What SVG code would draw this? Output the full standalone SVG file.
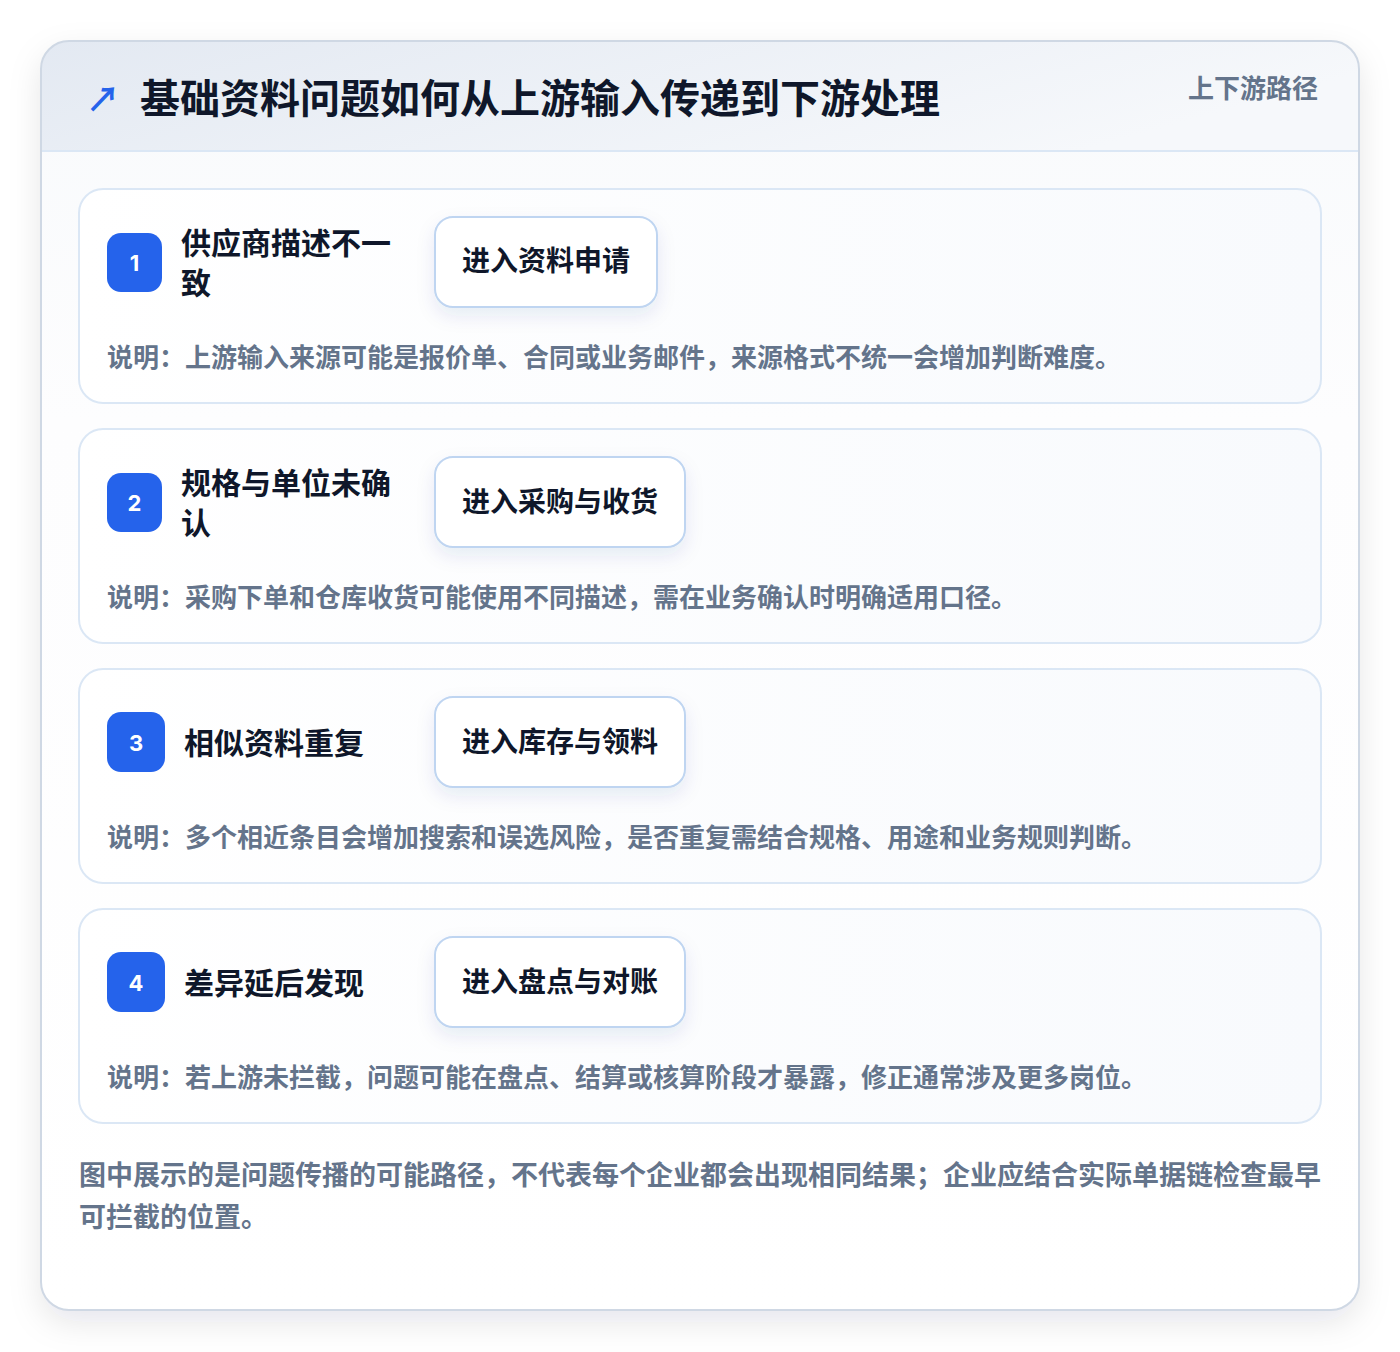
<svg xmlns="http://www.w3.org/2000/svg" width="1400" height="1352" viewBox="0 0 1400 1352">
<defs>
<linearGradient id="hdr" x1="0" y1="0" x2="1" y2="0.3">
<stop offset="0" stop-color="#e3e9f2"/>
<stop offset="1" stop-color="#f6f8fb"/>
</linearGradient>
<linearGradient id="body" x1="0" y1="0" x2="0" y2="1">
<stop offset="0" stop-color="#f8fafc"/>
<stop offset="0.3" stop-color="#fdfdfe"/>
<stop offset="1" stop-color="#ffffff"/>
</linearGradient>
<linearGradient id="card" x1="0" y1="0" x2="1" y2="0">
<stop offset="0" stop-color="#ffffff"/>
<stop offset="1" stop-color="#f8fafd"/>
</linearGradient>
<filter id="sh" x="-10%" y="-10%" width="120%" height="120%">
<feDropShadow dx="0" dy="12" stdDeviation="16" flood-color="#0f172a" flood-opacity="0.10"/>
</filter>
<filter id="bsh" x="-20%" y="-30%" width="140%" height="170%">
<feDropShadow dx="0" dy="8" stdDeviation="9" flood-color="#1e3a8a" flood-opacity="0.09"/>
</filter>
<clipPath id="outerClip"><rect x="41" y="41" width="1318" height="1269" rx="28"/></clipPath>
</defs>
<style>
.t{font-family:"Noto Sans CJK SC","Noto Sans",sans-serif;font-weight:700}
.title{font-size:40px;fill:#0f172a}
.sub{font-size:26px;fill:#64748b}
.st{font-size:30px;fill:#0f172a}
.bt{font-size:28px;fill:#0f172a}
.desc{font-size:26px;fill:#64748b}
.foot{font-size:27px;fill:#64748b}
.num{font-family:"Inter","Liberation Sans",sans-serif;font-weight:700;font-size:22px;fill:#ffffff}
.card{fill:url(#card);stroke:#dbe7f5;stroke-width:2}
.badge{fill:#2563eb}
.btn{fill:#ffffff;stroke:#bfd5f1;stroke-width:2}
</style>
<rect width="1400" height="1352" fill="#ffffff"/>
<g id="frame">
<rect x="41" y="41" width="1318" height="1269" rx="28" fill="url(#body)" filter="url(#sh)"/>
<g clip-path="url(#outerClip)">
<rect x="41" y="41" width="1318" height="110" fill="url(#hdr)"/>
<line x1="41" y1="151" x2="1359" y2="151" stroke="#dbe7f5" stroke-width="2"/>
</g>
<rect x="41" y="41" width="1318" height="1269" rx="28" fill="none" stroke="#cfd8e4" stroke-width="2"/>
</g>
<g id="header">
<text class="t" x="86" y="112" font-size="34" fill="#2563eb">↗</text>
<text class="t title" x="140" y="113">基础资料问题如何从上游输入传递到下游处理</text>
<text class="t sub" x="1318" y="98" text-anchor="end">上下游路径</text>
</g>
<g id="step1">
<rect class="card" x="79" y="189" width="1242" height="214" rx="24"/>
<rect class="badge" x="107" y="233" width="55" height="59" rx="14"/>
<text class="num" x="134.5" y="271" text-anchor="middle">1</text>
<text class="t st" x="181" y="254">供应商描述不一</text>
<text class="t st" x="181" y="294">致</text>
<rect class="btn" x="435" y="217" width="222" height="90" rx="18" filter="url(#bsh)"/>
<text class="t bt" x="546" y="271" text-anchor="middle">进入资料申请</text>
<text class="t desc" x="107" y="367">说明：上游输入来源可能是报价单、合同或业务邮件，来源格式不统一会增加判断难度。</text>
</g>
<g id="step2">
<rect class="card" x="79" y="429" width="1242" height="214" rx="24"/>
<rect class="badge" x="107" y="473" width="55" height="59" rx="14"/>
<text class="num" x="134.5" y="511" text-anchor="middle">2</text>
<text class="t st" x="181" y="494">规格与单位未确</text>
<text class="t st" x="181" y="534">认</text>
<rect class="btn" x="435" y="457" width="250" height="90" rx="18" filter="url(#bsh)"/>
<text class="t bt" x="560" y="512" text-anchor="middle">进入采购与收货</text>
<text class="t desc" x="107" y="607">说明：采购下单和仓库收货可能使用不同描述，需在业务确认时明确适用口径。</text>
</g>
<g id="step3">
<rect class="card" x="79" y="669" width="1242" height="214" rx="24"/>
<rect class="badge" x="107" y="712" width="58" height="60" rx="14"/>
<text class="num" x="136" y="751" text-anchor="middle">3</text>
<text class="t st" x="184" y="754">相似资料重复</text>
<rect class="btn" x="435" y="697" width="250" height="90" rx="18" filter="url(#bsh)"/>
<text class="t bt" x="560" y="752" text-anchor="middle">进入库存与领料</text>
<text class="t desc" x="107" y="847">说明：多个相近条目会增加搜索和误选风险，是否重复需结合规格、用途和业务规则判断。</text>
</g>
<g id="step4">
<rect class="card" x="79" y="909" width="1242" height="214" rx="24"/>
<rect class="badge" x="107" y="952" width="58" height="60" rx="14"/>
<text class="num" x="136" y="991" text-anchor="middle">4</text>
<text class="t st" x="184" y="994">差异延后发现</text>
<rect class="btn" x="435" y="937" width="250" height="90" rx="18" filter="url(#bsh)"/>
<text class="t bt" x="560" y="992" text-anchor="middle">进入盘点与对账</text>
<text class="t desc" x="107" y="1087">说明：若上游未拦截，问题可能在盘点、结算或核算阶段才暴露，修正通常涉及更多岗位。</text>
</g>
<g id="connectors"></g>
<g id="footer">
<text class="t foot" x="79" y="1185">图中展示的是问题传播的可能路径，不代表每个企业都会出现相同结果；企业应结合实际单据链检查最早</text>
<text class="t foot" x="79" y="1227">可拦截的位置。</text>
</g>
</svg>
